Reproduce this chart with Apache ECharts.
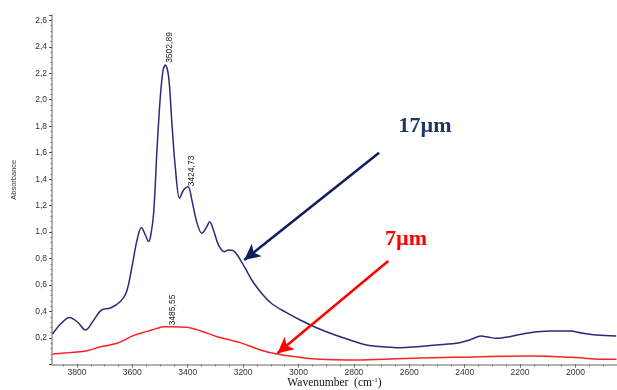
<!DOCTYPE html>
<html>
<head>
<meta charset="utf-8">
<script src="https://cdn.jsdelivr.net/npm/echarts@6/dist/echarts.min.js"></script>
<style>
  html, body { margin: 0; padding: 0; background: #fff; }
  #ir_chart { width: 617px; height: 390px; }
</style>
</head>
<body>
<div id="ir_chart"></div>
<script>
// spectre 17µm (bleu)
var wnBlue = [3888, 3859, 3827, 3798, 3769, 3744, 3711, 3679, 3643, 3621, 3602, 3583, 3567, 3553, 3541, 3534,
  3523, 3511, 3499, 3489, 3481, 3469, 3457, 3445, 3429, 3415, 3399, 3385, 3369, 3349, 3331, 3321, 3307, 3289,
  3268, 3253, 3236, 3221, 3193, 3164, 3128, 3095, 3048, 2994, 2933, 2868, 2814, 2754, 2694, 2634, 2574, 2502,
  2418, 2382, 2340, 2322, 2285, 2238, 2177, 2093, 2021, 1973, 1925, 1853];
var absBlue = [0.23, 0.306, 0.355, 0.321, 0.261, 0.321, 0.412, 0.427, 0.476, 0.548, 0.729, 0.94, 1.035, 0.978, 0.93, 0.97,
  1.144, 1.62, 2.02, 2.224, 2.262, 2.174, 1.82, 1.494, 1.255, 1.318, 1.343, 1.242, 1.09, 0.991, 1.041, 1.079, 1.016, 0.903,
  0.852, 0.865, 0.86, 0.827, 0.729, 0.623, 0.525, 0.457, 0.397, 0.336, 0.276, 0.223, 0.185, 0.147, 0.134, 0.127, 0.134, 0.147,
  0.165, 0.185, 0.215, 0.21, 0.198, 0.21, 0.236, 0.253, 0.253, 0.236, 0.223, 0.215];
// spectre 7µm (rouge)
var wnRed = [3888, 3811, 3763, 3715, 3655, 3595, 3547, 3511, 3487, 3457, 3403, 3355, 3294, 3211, 3138, 3078,
  2994, 2922, 2814, 2670, 2443, 2166, 2011, 1902, 1852];
var absRed = [0.079, 0.092, 0.104, 0.134, 0.16, 0.22, 0.25, 0.273, 0.286, 0.286, 0.281, 0.255, 0.21, 0.165, 0.11, 0.079,
  0.054, 0.039, 0.034, 0.042, 0.054, 0.064, 0.054, 0.039, 0.039];
var xLabels = [3800, 3600, 3400, 3200, 3000, 2800, 2600, 2400, 2200, 2000];
var xMinor = [];
for (var v = 1900; v <= 3850; v += 50) xMinor.push(v);

function pairs(xs, ys) {
    return xs.map(function (x, i) { return [x, ys[i]]; });
}

var myChart = echarts.init(document.getElementById('ir_chart'));
var axisFont = {color: '#333', fontSize: 8.5, fontFamily: 'Liberation Sans'};
var option = {
    animation: false,
    backgroundColor: '#fff',
    grid: {left: 52, right: 0, top: 15, bottom: 25.5, outerBoundsMode: 'none', containLabel: false},
    xAxis: [
        {type: 'value', min: 1850, max: 3890, inverse: true,
            name: '{a|Wavenumber  (cm}{s|-1}{a|)}', nameLocation: 'middle', nameGap: 12, nameMoveOverlap: false,
            nameTextStyle: {rich: {
                a: {fontFamily: 'Liberation Serif', fontSize: 11.5, color: '#111', lineHeight: 13},
                s: {fontFamily: 'Liberation Serif', fontSize: 7, color: '#111', verticalAlign: 'top', lineHeight: 8}
            }},
            axisLine: {show: true, onZero: false, lineStyle: {color: '#999', width: 1.5}},
            axisTick: {show: true, length: 3, customValues: xLabels, lineStyle: {color: '#555'}},
            axisLabel: Object.assign({customValues: xLabels, margin: 4,
                formatter: function (val) { return String(val); }}, axisFont),
            splitLine: {show: false}
        },
        {type: 'value', min: 1850, max: 3890, inverse: true, position: 'bottom',
            axisLine: {show: false},
            axisTick: {show: true, length: 2, customValues: xMinor, lineStyle: {color: '#777'}},
            axisLabel: {show: false}, splitLine: {show: false}
        }
    ],
    yAxis: {
        type: 'value', min: 0, max: 2.64, interval: 0.2,
        name: 'Absorbance', nameLocation: 'middle', nameGap: 34, nameMoveOverlap: false,
        nameTextStyle: {fontSize: 7.5, color: '#333', fontFamily: 'Liberation Sans', padding: [0, 0, 0, 20]},
        axisLine: {show: true, lineStyle: {color: '#999', width: 1.5}},
        axisTick: {show: true, length: 3, lineStyle: {color: '#555'}},
        minorTick: {show: true, splitNumber: 5, length: 1.5, lineStyle: {color: '#777'}},
        axisLabel: Object.assign({
            margin: 5, showMaxLabel: false,
            formatter: function (val) {
                if (val === 0 || val > 2.61) return '';
                return val.toFixed(1).replace('.', ',');
            }
        }, axisFont),
        splitLine: {show: false}
    },
    series: [
        {
            name: '17µm', type: 'line', xAxisIndex: 0, data: pairs(wnBlue, absBlue),
            smooth: 0.35, showSymbol: false, silent: true,
            lineStyle: {color: '#2a2a7e', width: 1.5},
            markLine: {
                silent: true, symbol: ['none', 'arrow'], symbolSize: [12, 16],
                label: {show: false},
                lineStyle: {color: '#0f1f5e', width: 2.5, type: 'solid'},
                data: [[{coord: [2709, 1.600]}, {coord: [3196, 0.789]}]]
            }
        },
        {
            name: '7µm', type: 'line', xAxisIndex: 0, data: pairs(wnRed, absRed),
            smooth: 0.35, showSymbol: false, silent: true,
            lineStyle: {color: '#ff2020', width: 1.5},
            markLine: {
                silent: true, symbol: ['none', 'arrow'], symbolSize: [12, 16],
                label: {show: false},
                lineStyle: {color: '#ff0000', width: 2.5, type: 'solid'},
                data: [[{coord: [2676, 0.782]}, {coord: [3076, 0.085]}]]
            }
        }
    ],
    graphic: [
        {type: 'text', x: 425, y: 126, style: {text: '17µm', fill: '#1f3864', font: 'bold 22px "Liberation Serif"', align: 'center', verticalAlign: 'middle'}},
        {type: 'text', x: 406, y: 239, style: {text: '7µm', fill: '#ff0000', font: 'bold 22px "Liberation Serif"', align: 'center', verticalAlign: 'middle'}},
        {type: 'text', x: 170, y: 47.5, rotation: Math.PI / 2, style: {text: '3502,89', fill: '#222', font: '8.5px "Liberation Sans"', align: 'center', verticalAlign: 'middle'}},
        {type: 'text', x: 191.5, y: 171, rotation: Math.PI / 2, style: {text: '3424,73', fill: '#222', font: '8.5px "Liberation Sans"', align: 'center', verticalAlign: 'middle'}},
        {type: 'text', x: 172.5, y: 310, rotation: Math.PI / 2, style: {text: '3485,55', fill: '#222', font: '8.5px "Liberation Sans"', align: 'center', verticalAlign: 'middle'}}
    ]
};
myChart.setOption(option);
</script>
</body>
</html>
